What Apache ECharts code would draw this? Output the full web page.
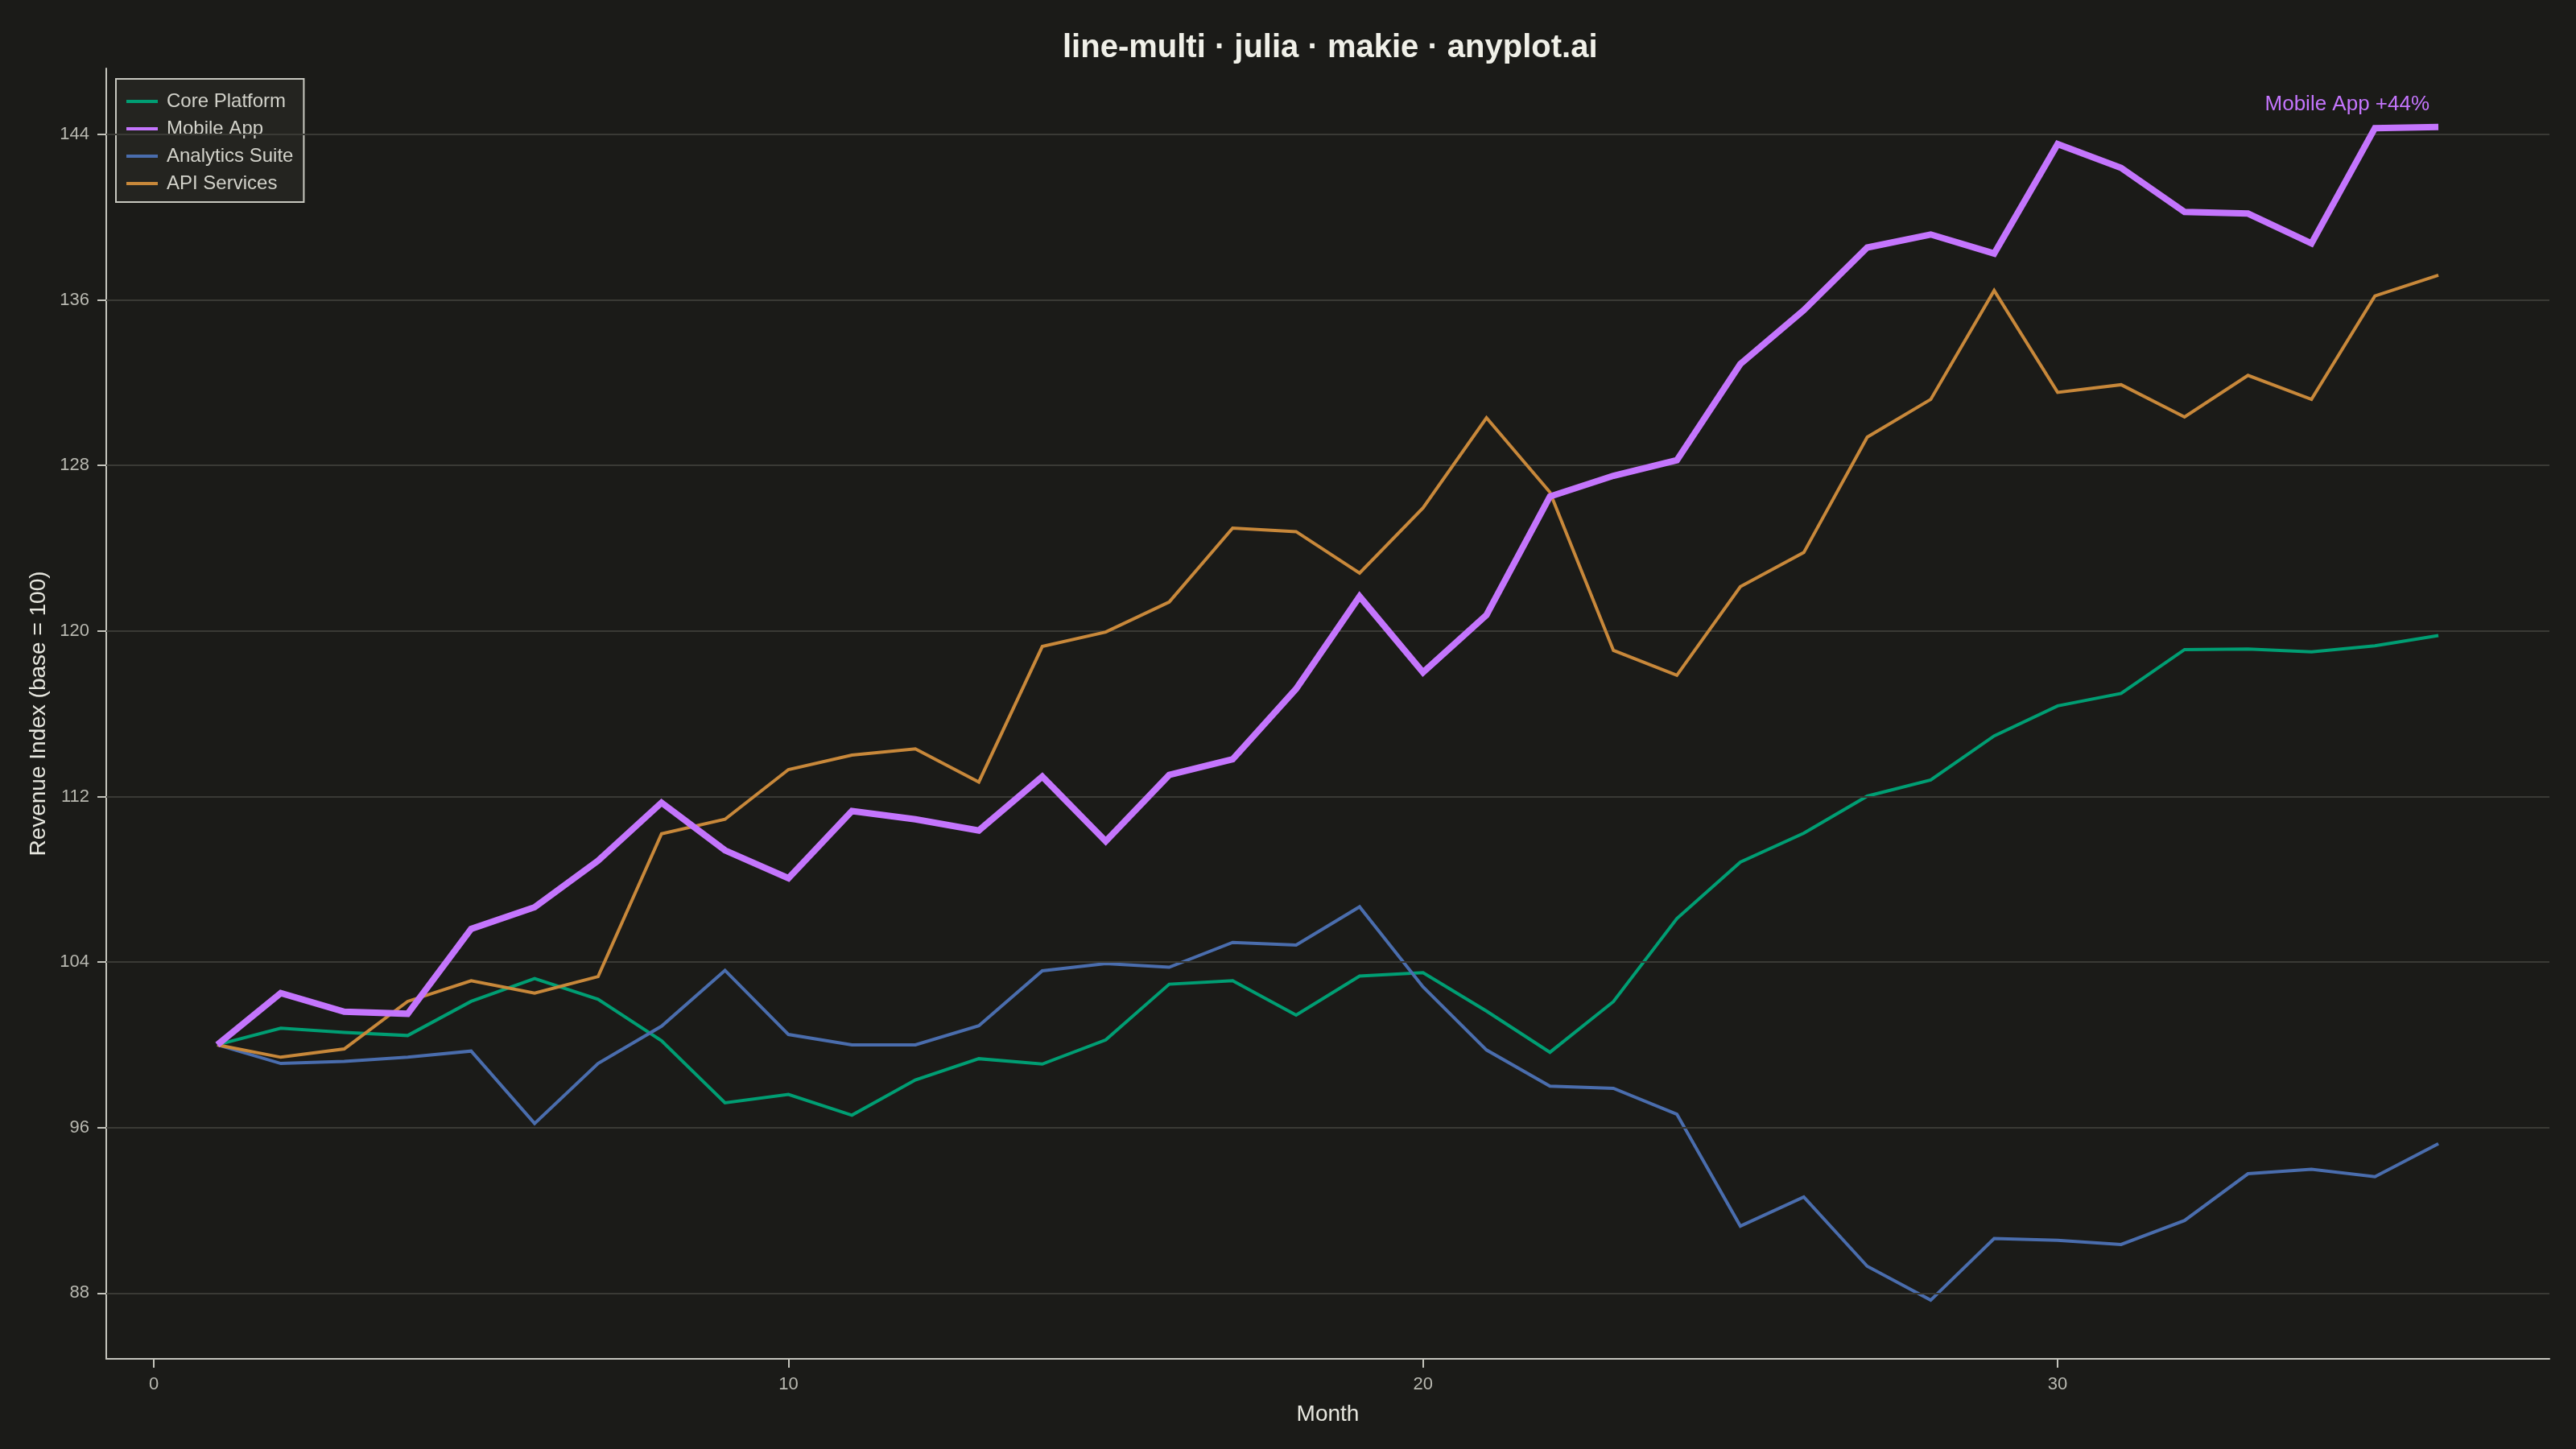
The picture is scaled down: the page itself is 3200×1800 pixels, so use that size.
<!DOCTYPE html>
<html>
<head>
<meta charset="utf-8">
<script src="https://cdn.jsdelivr.net/npm/echarts@6/dist/echarts.min.js"></script>
<style>
  html, body { margin: 0; padding: 0; background: #1b1b18; }
  #chart { width: 3200px; height: 1800px; }
</style>
</head>
<body>
<div id="chart"></div>
<script>
// ---- data ----
const months = [1,2,3,4,5,6,7,8,9,10,11,12,13,14,15,16,17,18,19,20,21,22,23,24,25,26,27,28,29,30,31,32,33,34,35,36];
const corePlatform = [100.0,100.8,100.6,100.45,102.1,103.2,102.2,100.2,97.2,97.6,96.6,98.3,99.33,99.07,100.24,102.93,103.1,101.44,103.32,103.49,101.63,99.64,102.09,106.1,108.83,110.23,112.02,112.8,114.93,116.38,116.98,119.1,119.13,118.99,119.28,119.78];
const mobileApp = [100.0,102.5,101.6,101.5,105.6,106.65,108.9,111.7,109.4,108.05,111.3,110.9,110.36,112.96,109.84,113.04,113.8,117.2,121.67,118.0,120.77,126.5,127.5,128.25,132.9,135.5,138.53,139.16,138.24,143.53,142.38,140.25,140.17,138.73,144.3,144.35];
const analyticsSuite = [100.0,99.1,99.2,99.4,99.7,96.2,99.1,100.9,103.6,100.5,100.0,100.0,100.92,103.58,103.93,103.75,104.95,104.82,106.67,102.8,99.75,98.0,97.9,96.65,91.24,92.65,89.3,87.66,90.64,90.55,90.35,91.51,93.77,93.99,93.63,95.22];
const apiServices = [100.0,99.4,99.8,102.1,103.1,102.5,103.3,110.2,110.9,113.3,114.0,114.3,112.7,119.25,119.95,121.4,124.97,124.8,122.8,125.95,130.3,126.7,119.06,117.86,122.14,123.79,129.37,131.19,136.45,131.53,131.9,130.34,132.35,131.19,136.19,137.19];
const seriesNames = ['Core Platform', 'Mobile App', 'Analytics Suite', 'API Services'];
const xTicks = [0, 10, 20, 30];
const yTicks = [88, 96, 104, 112, 120, 128, 136, 144];

// ---- styling ----
const FONT = '"Liberation Sans", Arial, Helvetica, sans-serif';
const BG = '#1b1b18';
const COLORS = { 'Core Platform': '#009E73', 'Mobile App': '#C475FD', 'Analytics Suite': '#4A6DAD', 'API Services': '#C8883A' };
const AXIS = '#c4c4bc';
const TICKTEXT = '#b8b8b0';
const GRID = '#3a3a35';

const pairs = (vals) => months.map((m, i) => [m, vals[i]]);
const all = corePlatform.concat(mobileApp, analyticsSuite, apiServices);
const lo = Math.min(...all), hi = Math.max(...all);
const yMin = lo - 0.05 * (hi - lo), yMax = hi + 0.05 * (hi - lo);
const xLo = months[0], xHi = months[months.length - 1];
const xMin = xLo - 0.05 * (xHi - xLo), xMax = xHi + 0.05 * (xHi - xLo);

function lineSeries(name, vals, width, z) {
  return {
    name: name, type: 'line', data: pairs(vals), z: z,
    symbol: 'none', smooth: false, silent: true,
    lineStyle: { color: COLORS[name], width: width, join: 'miter' },
    itemStyle: { color: COLORS[name] },
    emphasis: { disabled: true }
  };
}

const mobileSeries = lineSeries('Mobile App', mobileApp, 8, 6);
mobileSeries.markPoint = {
  symbol: 'circle', symbolSize: 0, silent: true,
  data: [{ coord: [months[months.length - 1], mobileApp[mobileApp.length - 1]] }],
  label: {
    show: true,
    formatter: 'Mobile App +' + Math.round(mobileApp[mobileApp.length - 1] - mobileApp[0]) + '%',
    position: [-11, -28], align: 'right', verticalAlign: 'middle',
    color: COLORS['Mobile App'], fontSize: 26, fontFamily: FONT
  }
};

const chart = echarts.init(document.getElementById('chart'), null, { renderer: 'canvas', width: 3200, height: 1800 });
chart.setOption({
  backgroundColor: BG,
  animation: false,
  title: {
    text: 'line-multi · julia · makie · anyplot.ai',
    left: 1315, top: 35,
    textStyle: { color: '#f0f0e8', fontSize: 40, fontWeight: 'bold', fontFamily: FONT }
  },
  legend: {
    data: seriesNames,
    orient: 'vertical', left: 144, top: 98,
    padding: [16, 13, 11, 13], itemGap: 10,
    itemWidth: 39, itemHeight: 4, icon: 'rect',
    backgroundColor: '#242420', borderColor: '#c8c8c0', borderWidth: 2, borderRadius: 0,
    selectedMode: false,
    textStyle: { color: '#d2d2ca', fontSize: 24, lineHeight: 24, fontFamily: FONT, padding: [0, 0, 0, 6] }
  },
  grid: { left: 132, right: 33, top: 85, bottom: 112, containLabel: false },
  xAxis: {
    type: 'value', min: xMin, max: xMax,
    name: 'Month', nameLocation: 'middle', nameGap: 55,
    nameTextStyle: { color: '#e6e6de', fontSize: 28, fontFamily: FONT },
    axisLine: { show: true, onZero: false, lineStyle: { color: AXIS, width: 2 } },
    axisTick: { show: true, customValues: xTicks, length: 11, lineStyle: { color: AXIS, width: 2 } },
    axisLabel: { customValues: xTicks, color: TICKTEXT, fontSize: 22, margin: 21, fontFamily: FONT },
    splitLine: { show: false }
  },
  yAxis: {
    type: 'value', min: yMin, max: yMax,
    name: 'Revenue Index (base = 100)', nameLocation: 'middle', nameGap: 70,
    nameTextStyle: { color: '#e6e6de', fontSize: 28, fontFamily: FONT },
    axisLine: { show: true, onZero: false, lineStyle: { color: AXIS, width: 2 } },
    axisTick: { show: true, customValues: yTicks, length: 11, lineStyle: { color: AXIS, width: 2 } },
    axisLabel: { customValues: yTicks, color: TICKTEXT, fontSize: 22, margin: 21, fontFamily: FONT },
    splitLine: { show: false }
  },
  series: [
    {
      name: 'grid', type: 'line', data: [], z: 1, silent: true, symbol: 'none',
      markLine: {
        silent: true, symbol: 'none', animation: false,
        label: { show: false },
        lineStyle: { color: GRID, width: 2, type: 'solid' },
        emphasis: { disabled: true },
        data: yTicks.map(v => ({ yAxis: v }))
      }
    },
    lineSeries('Core Platform', corePlatform, 4, 3),
    lineSeries('Analytics Suite', analyticsSuite, 4, 4),
    lineSeries('API Services', apiServices, 4, 5),
    mobileSeries
  ]
});
</script>
</body>
</html>
